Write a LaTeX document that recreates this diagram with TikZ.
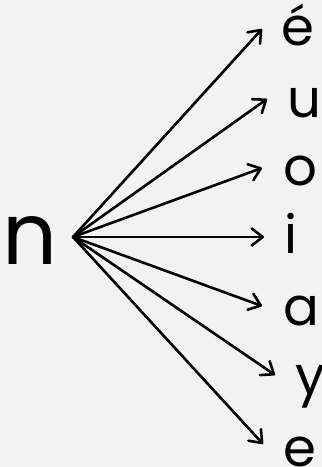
\documentclass[tikz,border=0pt]{standalone}
\usepackage{fontspec}
\setmainfont{Poppins}
\usetikzlibrary{arrows.meta}
\definecolor{bg}{RGB}{242,242,242}
\tikzset{
  letter/.style={anchor=base west, inner sep=0pt, font=\fontsize{53}{53}\selectfont},
  big/.style={anchor=base west, inner sep=0pt, font=\fontsize{86}{86}\selectfont},
  arr/.style={line width=2.6pt, line cap=round, -{Straight Barb[length=11pt,width=17pt,line width=2.6pt,line cap=round,line join=round]}}
}
\begin{document}
\begin{tikzpicture}[x=1pt,y=1pt]
\fill[bg] (0,0) rectangle (322,467);
\useasboundingbox (0,0) rectangle (322,467);
\node[big] (n) at (2,202) {n};
\coordinate (src) at (73,230);
\node[letter] (e1) at (281,421) {é};
\node[letter] (u) at (287,349) {u};
\node[letter] (o) at (283,281) {o};
\node[letter] (i) at (284,213) {i};
\node[letter] (a) at (283,141) {a};
\node[letter] (y) at (295,73) {y};
\node[letter] (e2) at (283,1) {e};
\coordinate (te1) at (262,438);
\coordinate (tu) at (267,368);
\coordinate (to) at (262,299);
\coordinate (ti) at (264,230);
\coordinate (ta) at (262,161);
\coordinate (ty) at (275,92);
\coordinate (te2) at (263,23);
\foreach \t in {te1,tu,to,ti,ta,ty,te2} \draw[arr] (src) -- (\t);
\end{tikzpicture}
\end{document}
